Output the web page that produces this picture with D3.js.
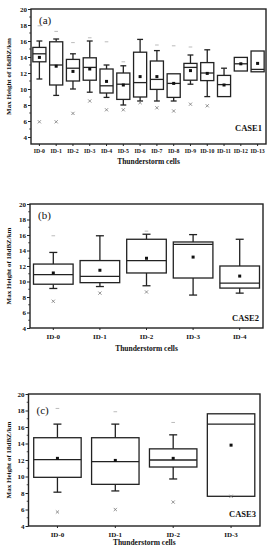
<!DOCTYPE html>
<html>
<head>
<meta charset="utf-8">
<script src="https://cdn.jsdelivr.net/npm/d3@7"></script>
<style>
  html, body { margin: 0; padding: 0; background: #fff; }
  svg { display: block; }
  text { font-family: "Liberation Serif", "DejaVu Serif", serif; font-weight: bold; fill: #111; }
</style>
</head>
<body>
<div id="chart"></div>
<script>
// Box charts of max 18dBZ echo height per thunderstorm cell, three cases

// CASE1
const idsA = ['ID-0','ID-1','ID-2','ID-3','ID-4','ID-5','ID-6','ID-7','ID-8','ID-9','ID-10','ID-11','ID-12','ID-13'];
const q3A     = [15.2, 15.9, 13.7, 13.9, 12.5, 12.0, 14.6, 13.5, 11.9, 13.2, 13.3, 11.7, 13.95, 14.75];
const medA    = [14.4, 13.0, 12.6, 12.7, 10.4, 10.6, 10.8, 11.2, 10.7, 12.7, 12.0, 10.55, 13.15, 12.45];
const q1A     = [13.4, 10.5, 11.0, 11.1, 9.5, 8.7, 9.0, 9.95, 8.95, 11.1, 11.05, 9.05, 12.25, 12.15];
const meanA   = [13.95, 12.85, 12.2, 12.5, 10.95, 10.5, 11.55, 11.55, 10.7, 12.3, 11.95, 10.5, 13.15, 13.2];
const whiHiA  = [16.0, 16.25, 14.4, 16.0, 13.0, 12.9, 16.2, 14.8, null, 14.25, 14.9, 12.6, null, null];
const whiLoA  = [11.25, 9.2, 10.0, 9.6, 8.95, 8.0, 8.5, 8.5, 8.5, 10.6, 9.05, null, null, null];
const crossA  = [5.9, 5.9, 6.95, 8.5, 7.4, 7.4, 8.3, 7.65, 7.25, 8.1, 7.9, null, null, null];
const dashA   = [17.9, 17.2, 15.8, 16.4, 15.9, 13.4, null, 15.5, 15.4, 15.25, null, null, null, null];

// CASE2
const idsB = ['ID-0','ID-1','ID-2','ID-3','ID-4'];
const q3B     = [12.25, 12.7, 15.45, 15.1, 12.0];
const medB    = [10.9, 10.65, 12.7, 14.8, 9.8];
const q1B     = [9.65, 9.85, 11.1, 10.45, 9.15];
const meanB   = [11.1, 11.45, 13.0, 13.15, 10.7];
const whiHiB  = [13.75, 15.9, 16.1, 16.05, 15.45];
const whiLoB  = [9.1, 9.35, 9.45, 8.25, 8.5];
const crossB  = [7.45, 8.5, 8.65, null, null];
const dashB   = [15.9, null, 16.5, null, null];

// CASE3
const idsC = ['ID-0','ID-1','ID-2','ID-3'];
const q3C     = [14.7, 14.7, 13.35, 17.6];
const medC    = [12.05, 11.8, 12.0, 16.35];
const q1C     = [9.9, 9.05, 11.15, 7.6];
const meanC   = [12.2, 11.95, 12.2, 13.8];
const whiHiC  = [16.35, 16.35, 15.05, null];
const whiLoC  = [8.1, 8.25, 9.7, null];
const crossC  = [5.7, 6.0, 6.9, 7.6];
const dashC   = [18.25, 17.85, 16.55, null];

const yTicks = [4, 6, 8, 10, 12, 14, 16, 18, 20];
const yMinor = [5, 7, 9, 11, 13, 15, 17, 19];

const W = 270, H = 550;
const svg = d3.select('#chart').append('svg').attr('width', W).attr('height', H);

function drawPanel(p) {
  const x = d3.scaleBand().domain(p.ids).range([p.left, p.right]).paddingInner(0).paddingOuter(0);
  const y = d3.scaleLinear().domain(p.yDomain).range([p.bottom, p.top]);
  const g = svg.append('g');
  const bw = x.bandwidth() * p.boxFrac;
  const capW = Math.min(bw * 0.45, 8);

  // frame
  g.append('rect')
    .attr('x', p.left).attr('y', p.top)
    .attr('width', p.right - p.left).attr('height', p.bottom - p.top)
    .attr('fill', 'none').attr('stroke', '#222').attr('stroke-width', 1.4);

  // y axis
  const yAxis = g.append('g').attr('transform', `translate(${p.left},0)`)
    .call(d3.axisLeft(y).tickValues(yTicks).tickSize(3).tickPadding(1).tickFormat(d3.format('d')));
  yAxis.select('.domain').remove();
  yAxis.selectAll('line').attr('stroke', '#222').attr('stroke-width', 1);
  yAxis.selectAll('text').style('font-size', '7px').style('font-family', '"Liberation Serif", serif').style('font-weight', 'bold');
  g.append('g').selectAll('line').data(yMinor).join('line')
    .attr('x1', p.left - 1.8).attr('x2', p.left)
    .attr('y1', d => y(d)).attr('y2', d => y(d))
    .attr('stroke', '#222').attr('stroke-width', 0.8);

  // x axis
  const xAxis = g.append('g').attr('transform', `translate(0,${p.bottom})`)
    .call(d3.axisBottom(x).tickSize(2).tickPadding(p.xPad));
  xAxis.select('.domain').remove();
  xAxis.selectAll('line').attr('stroke', '#222');
  xAxis.selectAll('text').style('font-size', p.xFont + 'px').style('font-family', '"Liberation Serif", serif').style('font-weight', 'bold');

  const cx = d => x(d) + x.bandwidth() / 2;
  const rows = p.ids.map((id, i) => ({
    id, q1: p.q1[i], q3: p.q3[i], med: p.med[i], mean: p.mean[i],
    hi: p.whiHi[i], lo: p.whiLo[i], cross: p.cross[i], dash: p.dash[i]
  }));

  const box = g.append('g').selectAll('g').data(rows).join('g');

  // whiskers
  box.filter(d => d.hi != null).append('line')
    .attr('x1', d => cx(d.id)).attr('x2', d => cx(d.id))
    .attr('y1', d => y(d.q3)).attr('y2', d => y(d.hi))
    .attr('stroke', '#222').attr('stroke-width', 1.3);
  box.filter(d => d.hi != null).append('line')
    .attr('x1', d => cx(d.id) - capW / 2).attr('x2', d => cx(d.id) + capW / 2)
    .attr('y1', d => y(d.hi)).attr('y2', d => y(d.hi))
    .attr('stroke', '#222').attr('stroke-width', 1.3);
  box.filter(d => d.lo != null).append('line')
    .attr('x1', d => cx(d.id)).attr('x2', d => cx(d.id))
    .attr('y1', d => y(d.q1)).attr('y2', d => y(d.lo))
    .attr('stroke', '#222').attr('stroke-width', 1.3);
  box.filter(d => d.lo != null).append('line')
    .attr('x1', d => cx(d.id) - capW / 2).attr('x2', d => cx(d.id) + capW / 2)
    .attr('y1', d => y(d.lo)).attr('y2', d => y(d.lo))
    .attr('stroke', '#222').attr('stroke-width', 1.3);

  // boxes
  box.append('rect')
    .attr('x', d => cx(d.id) - bw / 2).attr('width', bw)
    .attr('y', d => y(d.q3)).attr('height', d => y(d.q1) - y(d.q3))
    .attr('fill', '#fff').attr('stroke', '#222').attr('stroke-width', 1.3);
  box.append('line')
    .attr('x1', d => cx(d.id) - bw / 2).attr('x2', d => cx(d.id) + bw / 2)
    .attr('y1', d => y(d.med)).attr('y2', d => y(d.med))
    .attr('stroke', '#222').attr('stroke-width', 1.3);

  // mean
  box.append('rect')
    .attr('x', d => cx(d.id) - 1.5).attr('y', d => y(d.mean) - 1.5)
    .attr('width', 3).attr('height', 3).attr('fill', '#111');

  // 1%/99% crosses and max dashes
  box.filter(d => d.cross != null).append('path')
    .attr('d', d => {
      const px = cx(d.id), py = y(d.cross), s = 1.6;
      return `M${px - s},${py - s}L${px + s},${py + s}M${px - s},${py + s}L${px + s},${py - s}`;
    })
    .attr('stroke', '#777').attr('stroke-width', 0.8);
  box.filter(d => d.dash != null).append('line')
    .attr('x1', d => cx(d.id) - 1.8).attr('x2', d => cx(d.id) + 1.8)
    .attr('y1', d => y(d.dash)).attr('y2', d => y(d.dash))
    .attr('stroke', '#aaa').attr('stroke-width', 0.8);

  // labels
  g.append('text').attr('x', p.left + 8).attr('y', p.top + p.tagDy)
    .style('font-size', '11px').style('font-weight', 'normal').text(p.tag);
  g.append('text').attr('x', p.right - 4).attr('y', p.caseY)
    .attr('text-anchor', 'end').style('font-size', '8.5px').text(p.caseName);
  g.append('text').attr('x', (p.left + p.right) / 2).attr('y', p.titleY)
    .attr('text-anchor', 'middle').style('font-size', '7.5px').text('Thunderstorm cells');
  g.append('text')
    .attr('transform', `translate(11,${(p.top + p.bottom) / 2}) rotate(-90)`)
    .attr('text-anchor', 'middle').style('font-size', '7px').text('Max Height of 18dBZ/km');
}

drawPanel({
  ids: idsA, q1: q1A, q3: q3A, med: medA, mean: meanA, whiHi: whiHiA, whiLo: whiLoA, cross: crossA, dash: dashA,
  left: 31, right: 266, top: 9, bottom: 144, yDomain: [3.125, 20], boxFrac: 0.78,
  xFont: 5.8, xPad: 3, tag: '(a)', tagDy: 15, caseName: 'CASE1', caseY: 131, titleY: 164
});
drawPanel({
  ids: idsB, q1: q1B, q3: q3B, med: medB, mean: meanB, whiHi: whiHiB, whiLo: whiLoB, cross: crossB, dash: dashB,
  left: 30, right: 263, top: 204, bottom: 328, yDomain: [4, 20], boxFrac: 0.85,
  xFont: 7, xPad: 4, tag: '(b)', tagDy: 15, caseName: 'CASE2', caseY: 321, titleY: 351
});
drawPanel({
  ids: idsC, q1: q1C, q3: q3C, med: medC, mean: meanC, whiHi: whiHiC, whiLo: whiLoC, cross: crossC, dash: dashC,
  left: 28.5, right: 260, top: 394, bottom: 526, yDomain: [4, 20], boxFrac: 0.82,
  xFont: 7, xPad: 4, tag: '(c)', tagDy: 20, caseName: 'CASE3', caseY: 517, titleY: 545
});
</script>
</body>
</html>
